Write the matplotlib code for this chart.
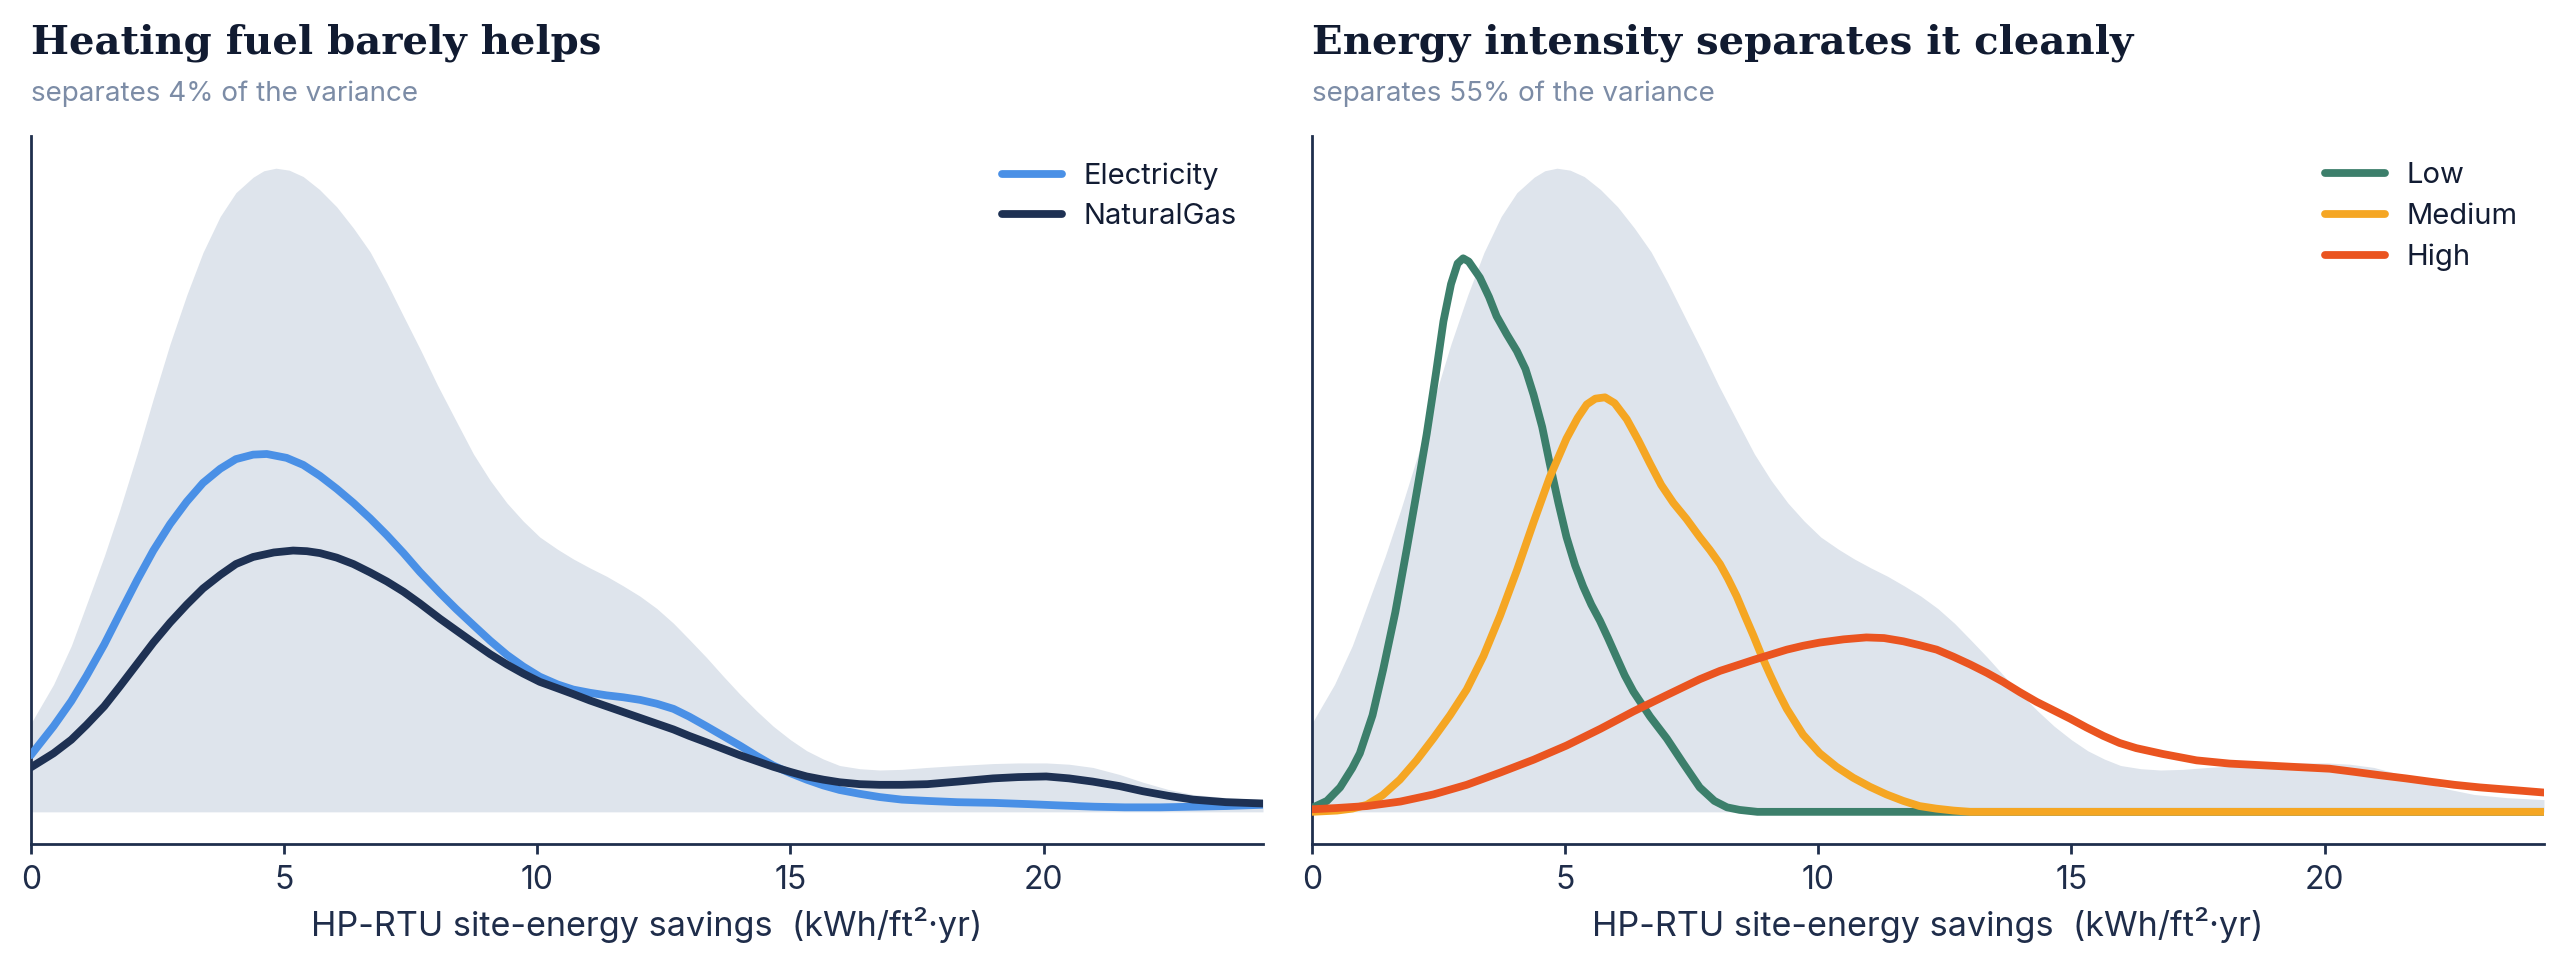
import matplotlib
matplotlib.use("Agg")
import matplotlib.pyplot as plt

# overall distribution (grey fill, same on both panels), relative density
all_x = [0, 0.45, 0.8, 1.1, 1.45, 1.76, 2.1, 2.42, 2.75, 3.08, 3.4, 3.74, 4.05, 4.39,
         4.6, 4.84, 5.1, 5.38, 5.7, 6.04, 6.37, 6.7, 7.03, 7.36, 7.7, 8.03, 8.4, 8.74,
         9.07, 9.4, 9.72, 10.05, 10.4, 10.71, 11.04, 11.37, 11.7, 12.03, 12.36, 12.69,
         13.0, 13.34, 13.67, 14.0, 14.33, 14.66, 15.0, 15.32, 15.65, 15.97, 16.37, 16.76,
         17.2, 17.7, 18.3, 19.0, 19.5, 20.05, 20.5, 20.97, 21.5, 21.96, 22.45, 22.95,
         23.6, 24.33]
all_y = [0.137, 0.198, 0.258, 0.322, 0.397, 0.47, 0.556, 0.642, 0.727, 0.803, 0.869, 0.925,
         0.962, 0.986, 0.996, 1.0, 0.997, 0.987, 0.967, 0.94, 0.907, 0.87, 0.822, 0.77,
         0.717, 0.663, 0.607, 0.556, 0.515, 0.48, 0.452, 0.427, 0.408, 0.393, 0.379,
         0.366, 0.351, 0.335, 0.316, 0.293, 0.268, 0.24, 0.211, 0.183, 0.157, 0.133,
         0.112, 0.095, 0.082, 0.072, 0.067, 0.065, 0.066, 0.069, 0.072, 0.075, 0.076,
         0.076, 0.074, 0.069, 0.058, 0.046, 0.035, 0.027, 0.022, 0.019]

# heating fuel
elec_x = [0, 0.45, 0.8, 1.1, 1.45, 1.76, 2.1, 2.42, 2.75, 3.08, 3.4, 3.74, 4.05, 4.39,
          4.66, 5.05, 5.38, 5.71, 6.04, 6.37, 6.7, 7.03, 7.36, 7.68, 8.08, 8.4, 8.74,
          9.07, 9.4, 9.72, 10.05, 10.4, 10.71, 11.04, 11.37, 11.7, 12.03, 12.36, 12.69,
          13.0, 13.34, 13.67, 14.0, 14.33, 14.66, 15.0, 15.32, 15.65, 15.97, 16.37,
          16.76, 17.2, 17.7, 18.3, 19.0, 19.7, 20.3, 21.0, 21.6, 22.3, 22.95, 23.6, 24.33]
elec_y = [0.088, 0.133, 0.172, 0.211, 0.26, 0.308, 0.36, 0.406, 0.447, 0.482, 0.511,
          0.533, 0.548, 0.555, 0.556, 0.55, 0.539, 0.522, 0.502, 0.48, 0.456, 0.43,
          0.402, 0.373, 0.34, 0.315, 0.29, 0.266, 0.244, 0.226, 0.21, 0.198, 0.19, 0.185,
          0.181, 0.178, 0.174, 0.168, 0.16, 0.148, 0.133, 0.118, 0.103, 0.087, 0.072,
          0.06, 0.05, 0.041, 0.034, 0.028, 0.023, 0.019, 0.017, 0.015, 0.014, 0.012,
          0.01, 0.008, 0.007, 0.007, 0.008, 0.009, 0.011]
gas_x = [0, 0.45, 0.8, 1.1, 1.45, 1.76, 2.1, 2.42, 2.75, 3.08, 3.4, 3.74, 4.05, 4.39,
         4.8, 5.18, 5.45, 5.71, 6.04, 6.37, 6.7, 7.03, 7.36, 7.68, 8.08, 8.4, 8.74, 9.07,
         9.4, 9.72, 10.05, 10.4, 10.71, 11.04, 11.37, 11.7, 12.03, 12.36, 12.69, 13.0,
         13.34, 13.67, 14.0, 14.33, 14.66, 15.0, 15.32, 15.65, 15.97, 16.37, 16.76, 17.2,
         17.7, 18.3, 19.0, 19.5, 20.05, 20.5, 20.97, 21.5, 21.96, 22.45, 22.95, 23.6,
         24.33]
gas_y = [0.069, 0.091, 0.112, 0.135, 0.164, 0.195, 0.23, 0.263, 0.294, 0.322, 0.347,
         0.368, 0.385, 0.396, 0.403, 0.406, 0.405, 0.402, 0.395, 0.385, 0.372, 0.358,
         0.342, 0.324, 0.30, 0.282, 0.263, 0.245, 0.229, 0.215, 0.202, 0.192, 0.183,
         0.173, 0.164, 0.155, 0.146, 0.137, 0.128, 0.118, 0.108, 0.098, 0.088, 0.079,
         0.07, 0.062, 0.055, 0.05, 0.046, 0.043, 0.042, 0.042, 0.043, 0.047, 0.052,
         0.054, 0.055, 0.052, 0.047, 0.04, 0.032, 0.025, 0.019, 0.015, 0.013]

# energy intensity
low_x = [0, 0.3, 0.56, 0.8, 0.95, 1.2, 1.41, 1.65, 1.88, 2.08, 2.27, 2.45, 2.6, 2.75,
         2.88, 2.99, 3.1, 3.32, 3.5, 3.65, 3.85, 4.05, 4.22, 4.38, 4.55, 4.7, 4.87, 5.03,
         5.2, 5.36, 5.52, 5.69, 5.85, 6.02, 6.18, 6.35, 6.68, 7.01, 7.33, 7.66, 7.95,
         8.2, 8.45, 8.8, 10.0, 15.0, 20.0, 24.33]
low_y = [0.006, 0.017, 0.038, 0.068, 0.091, 0.15, 0.221, 0.31, 0.41, 0.50, 0.587, 0.68,
         0.762, 0.82, 0.852, 0.86, 0.855, 0.83, 0.80, 0.77, 0.742, 0.716, 0.688, 0.648,
         0.598, 0.541, 0.48, 0.427, 0.383, 0.35, 0.322, 0.297, 0.27, 0.24, 0.212, 0.187,
         0.148, 0.114, 0.076, 0.038, 0.017, 0.007, 0.003, 0.0, 0.0, 0.0, 0.0, 0.0]
med_x = [0, 0.5, 0.8, 1.09, 1.4, 1.74, 2.07, 2.4, 2.73, 3.06, 3.39, 3.72, 4.05, 4.38,
         4.7, 5.03, 5.25, 5.43, 5.6, 5.79, 5.98, 6.22, 6.45, 6.68, 6.9, 7.14, 7.4, 7.66,
         7.86, 8.06, 8.22, 8.39, 8.55, 8.72, 8.88, 9.05, 9.21, 9.38, 9.7, 10.03, 10.36,
         10.69, 11.02, 11.35, 11.68, 12.0, 12.33, 12.67, 13.0, 18.0, 24.33]
med_y = [0.0, 0.002, 0.005, 0.011, 0.026, 0.05, 0.08, 0.114, 0.15, 0.19, 0.242, 0.305,
         0.375, 0.45, 0.52, 0.58, 0.612, 0.633, 0.642, 0.644, 0.635, 0.61, 0.577, 0.541,
         0.508, 0.48, 0.455, 0.427, 0.407, 0.385, 0.362, 0.335, 0.305, 0.274, 0.243,
         0.213, 0.186, 0.16, 0.12, 0.091, 0.07, 0.053, 0.039, 0.027, 0.017, 0.009, 0.005,
         0.002, 0.0, 0.0, 0.0]
high_x = [0, 0.5, 1.09, 1.75, 2.4, 3.06, 3.72, 4.38, 5.03, 5.7, 6.35, 7.0, 7.66, 8.06,
          8.45, 8.72, 9.05, 9.38, 9.7, 10.03, 10.5, 10.95, 11.3, 11.68, 12.0, 12.34,
          12.67, 13.0, 13.33, 13.65, 13.98, 14.31, 14.64, 14.97, 15.3, 15.63, 15.95,
          16.28, 16.8, 17.47, 18.12, 19.11, 20.1, 20.6, 21.08, 21.6, 22.07, 22.56, 23.06,
          23.7, 24.33]
high_y = [0.004, 0.006, 0.009, 0.016, 0.027, 0.042, 0.061, 0.081, 0.103, 0.129, 0.156,
          0.181, 0.206, 0.219, 0.229, 0.236, 0.244, 0.252, 0.258, 0.263, 0.268, 0.271,
          0.27, 0.265, 0.259, 0.252, 0.241, 0.229, 0.216, 0.202, 0.186, 0.171, 0.158,
          0.145, 0.131, 0.118, 0.107, 0.099, 0.09, 0.08, 0.075, 0.071, 0.067, 0.062,
          0.057, 0.052, 0.047, 0.042, 0.038, 0.034, 0.03]

panels = [
    ("Heating fuel barely helps", "separates 4% of the variance",
     [("Electricity", elec_x, elec_y, "#4a90e6"),
      ("NaturalGas", gas_x, gas_y, "#1e3153")]),
    ("Energy intensity separates it cleanly", "separates 55% of the variance",
     [("Low", low_x, low_y, "#3c7f6b"),
      ("Medium", med_x, med_y, "#f5a623"),
      ("High", high_x, high_y, "#ea5420")]),
]

plt.rcParams["font.family"] = ["Inter", "DejaVu Sans"]
navy = "#1f2f4d"

fig = plt.figure(figsize=(12.825, 4.8), dpi=200)
lefts = [0.012, 0.5114]
for left, (title, sub, series) in zip(lefts, panels):
    ax = fig.add_axes([left, 0.1208, 0.4804, 0.7375])
    ax.fill_between(all_x, all_y, 0, color="#dee4ec", lw=0, zorder=1)
    for name, xs, ys, col in series:
        ax.plot(xs, ys, color=col, lw=2.8, label=name, solid_capstyle="round",
                solid_joinstyle="round", zorder=3)
    ax.set_xlim(0, 24.33)
    ax.set_ylim(-0.05, 1.05)
    ax.set_yticks([])
    ax.set_xticks([0, 5, 10, 15, 20])
    for s in ["top", "right"]:
        ax.spines[s].set_visible(False)
    for s in ["left", "bottom"]:
        ax.spines[s].set_color(navy)
        ax.spines[s].set_linewidth(1.0)
    ax.tick_params(axis="x", colors=navy, labelsize=11.5, length=3.5, width=1.0, pad=4,
                   labelcolor="#1f2d4a")
    ax.set_xlabel("HP-RTU site-energy savings  (kWh/ft²·yr)", fontsize=12.3,
                  color="#1f2d4a", labelpad=4)
    leg = ax.legend(loc="upper right", frameon=False, fontsize=10.5,
                    handlelength=2.05, handletextpad=0.75, labelspacing=0.47,
                    bbox_to_anchor=(1.0, 1.0))
    for t in leg.get_texts():
        t.set_color("#121c33")
    fig.text(left, 0.944, title, family=["DejaVu Serif"], weight="bold",
             fontsize=14.5, color="#111b31", va="baseline")
    fig.text(left, 0.895, sub, fontsize=10, color="#7c8ca6", va="baseline")

fig.savefig("out.png", dpi=200)
